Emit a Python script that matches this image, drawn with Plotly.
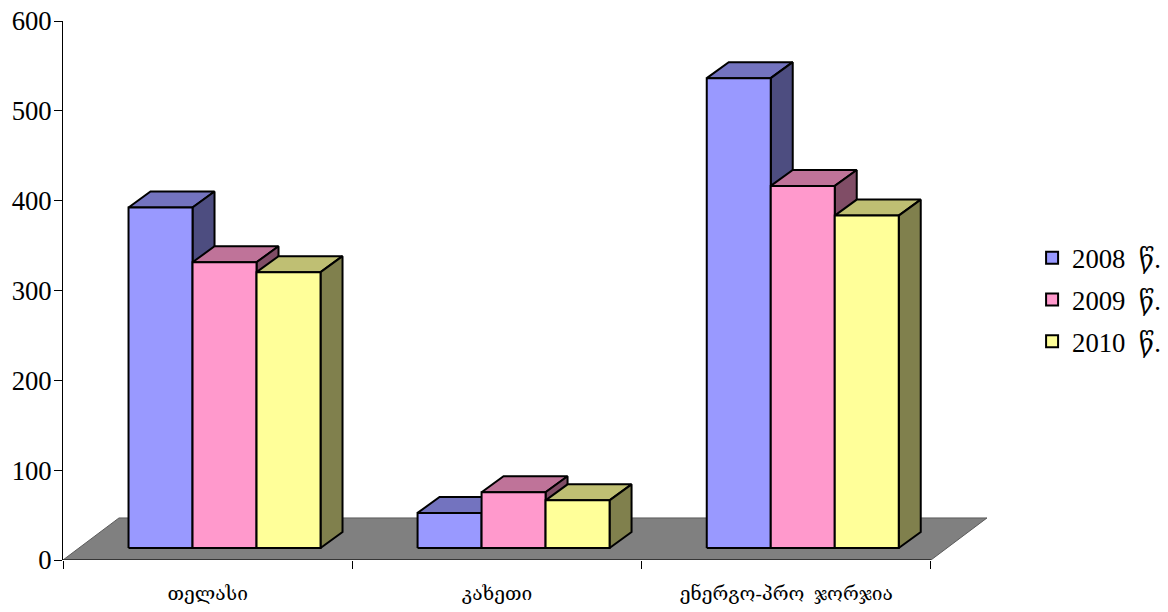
import plotly.graph_objects as go

categories = ["თელასი", "კახეთი", "ენერგო-პრო  ჯორჯია"]
series_names = ["2008  წ.", "2009  წ.", "2010  წ."]
values_2008 = [379, 39, 523]
values_2009 = [318, 62, 403]
values_2010 = [307, 53, 370]
y_ticks = [0, 100, 200, 300, 400, 500, 600]

front_colors = ["#9999FF", "#FF99CC", "#FFFF99"]
top_colors = ["#7373BF", "#BF7399", "#BFBF73"]
side_colors = ["#4D4D80", "#804D66", "#80804D"]

BASE = 13.4          # value height of bar feet above the axis floor edge
BAR_W = 0.2212
OFFSETS = [0.2265, 0.2255, 0.2250]
DX, DY = 0.076, 17.8  # bar depth
FDX, FDY = 0.1935, 46.8  # floor depth
FONT = "Liberation Serif, 'DejaVu Serif', 'DejaVu Sans', serif"


def join(polys):
    xs, ys = [], []
    for p in polys:
        xs += [a for a, _ in p] + [p[0][0], None]
        ys += [b for _, b in p] + [p[0][1], None]
    return xs, ys


def poly_trace(polys, fill, lw=2, lc="black"):
    xs, ys = join(polys)
    return go.Scatter(x=xs, y=ys, mode="lines", fill="toself", fillcolor=fill,
                      line=dict(color=lc, width=lw, shape="linear"), cliponaxis=False,
                      showlegend=False, hoverinfo="skip", connectgaps=False)


fig = go.Figure()
fig.add_trace(poly_trace([[(0, 0), (3, 0), (3 + FDX, FDY), (FDX, FDY)]], "#808080", lw=1, lc="#5a5a5a"))
fig.add_trace(go.Scatter(x=[0, 3], y=[0, 0], mode="lines", line=dict(color="black", width=1),
                         cliponaxis=False, showlegend=False, hoverinfo="skip"))

all_values = [values_2008, values_2009, values_2010]
for s, vals in enumerate(all_values):
    tops, sides, fronts = [], [], []
    for c, v in enumerate(vals):
        x0 = c + OFFSETS[c] + s * BAR_W
        x1 = x0 + BAR_W
        y0, y1 = BASE, BASE + v
        fronts.append([(x0, y0), (x1, y0), (x1, y1), (x0, y1)])
        tops.append([(x0, y1), (x1, y1), (x1 + DX, y1 + DY), (x0 + DX, y1 + DY)])
        sides.append([(x1, y0), (x1 + DX, y0 + DY), (x1 + DX, y1 + DY), (x1, y1)])
    fig.add_trace(poly_trace(tops, top_colors[s]))
    fig.add_trace(poly_trace(sides, side_colors[s]))
    fig.add_trace(poly_trace(fronts, front_colors[s]))

for s, name in enumerate(series_names):
    fig.add_trace(go.Scatter(x=[None], y=[None], mode="markers", name=name.replace(" ", "\u00a0"),
                             legendgroup=name,
                             marker=dict(symbol="square", size=12, color=front_colors[s],
                                         line=dict(color="black", width=2))))

fig.update_layout(
    width=1168, height=612, autosize=False,
    margin=dict(l=63, r=0, t=21, b=52, pad=0),
    paper_bgcolor="white", plot_bgcolor="white",
    font=dict(family=FONT, size=26.7, color="black"),
    xaxis=dict(range=[0, 3.8192], automargin=False, showgrid=False, zeroline=False, showline=False,
               tickmode="array", tickvals=[0.5, 1.5, 2.5], ticktext=[c.replace("  ", "\u00a0\u00a0") for c in categories],
               ticks="", tickfont=dict(size=19.2, family=FONT), ticklabelstandoff=20,
               minor=dict(tickmode="array", tickvals=[0, 1, 2, 3], ticks="outside", ticklen=8,
                          tickcolor="black", tickwidth=1, showgrid=False)),
    yaxis=dict(range=[0, 600], automargin=False, showgrid=False, zeroline=False, showline=True, linecolor="black", linewidth=1,
               tickmode="array", tickvals=y_ticks, ticks="outside", ticklen=8, tickcolor="black", tickwidth=1,
               ticklabelstandoff=-3, tickfont=dict(size=26.7, family=FONT)),
    legend=dict(x=0.877, xanchor="left", y=0.4826, yanchor="middle", tracegroupgap=4,
                entrywidth=95, entrywidthmode="pixels",
                font=dict(size=26.7, family=FONT), bgcolor="rgba(0,0,0,0)", borderwidth=0),
)

fig.write_html("out.html", config={"displayModeBar": False}, post_script="document.body.style.margin='0';")
